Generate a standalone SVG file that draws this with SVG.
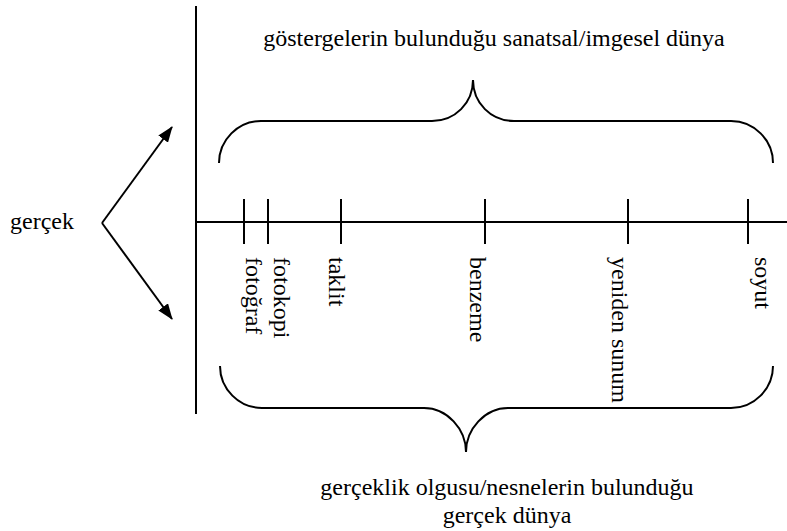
<svg xmlns="http://www.w3.org/2000/svg" width="787" height="531" viewBox="0 0 787 531">
<defs>
<style>
.ln{stroke:#000;stroke-width:2;fill:none}
.br{stroke:#000;stroke-width:2;fill:none}
.t{font-family:"Liberation Serif","Times New Roman",serif;font-size:24px;fill:#000}
</style>
<marker id="ah" viewBox="0 0 16 12" refX="15" refY="6" markerWidth="16" markerHeight="12" markerUnits="userSpaceOnUse" orient="auto">
<path d="M0,0 L16,6 L0,12 z" fill="#000"/>
</marker>
</defs>
<rect width="787" height="531" fill="#fff"/>
<g id="connectors">
<line class="ln" x1="196" y1="6" x2="196" y2="414"/>
<line class="ln" x1="196" y1="222" x2="787" y2="222"/>
<g id="ticks">
<line class="ln" x1="244" y1="199" x2="244" y2="244"/>
<line class="ln" x1="268" y1="199" x2="268" y2="244"/>
<line class="ln" x1="341" y1="199" x2="341" y2="244"/>
<line class="ln" x1="485" y1="199" x2="485" y2="244"/>
<line class="ln" x1="628" y1="199" x2="628" y2="244"/>
<line class="ln" x1="748" y1="199" x2="748" y2="244"/>
</g>
<path class="ln" d="M102,223 L172,127" marker-end="url(#ah)" stroke-width="2.5"/>
<path class="ln" d="M102,223 L172,319" marker-end="url(#ah)" stroke-width="2.5"/>
</g>
<g id="brace-top">
<path class="br" d="M219,163 C219,140 238,121 261,121 L432,121 C455,121 473,103 473,80 C473,103 491,121 514,121 L731,121 C754,121 773,140 773,163"/>
</g>
<g id="brace-bottom">
<path class="br" d="M220,366 C220,389 239,408 262,408 L424,408 C447,408 466,429 466,452 C466,429 485,408 508,408 L731,408 C754,408 773,389 773,366"/>
</g>
<g id="node-gercek"><text class="t" x="10" y="229">gerçek</text></g>
<g id="node-top"><text class="t" x="494" y="46" text-anchor="middle">göstergelerin bulunduğu sanatsal/imgesel dünya</text></g>
<g id="node-bottom">
<text class="t" x="507" y="495" text-anchor="middle">gerçeklik olgusu/nesnelerin bulunduğu</text>
<text class="t" x="507" y="523" text-anchor="middle">gerçek dünya</text>
</g>
<g id="node-fotograf"><text class="t" transform="translate(246,257) rotate(90)">fotoğraf</text></g>
<g id="node-fotokopi"><text class="t" transform="translate(274,257) rotate(90)">fotokopi</text></g>
<g id="node-taklit"><text class="t" transform="translate(329,257) rotate(90)">taklit</text></g>
<g id="node-benzeme"><text class="t" transform="translate(470,257) rotate(90)">benzeme</text></g>
<g id="node-yeniden"><text class="t" transform="translate(612,257) rotate(90)">yeniden sunum</text></g>
<g id="node-soyut"><text class="t" transform="translate(755,257) rotate(90)">soyut</text></g>
</svg>
